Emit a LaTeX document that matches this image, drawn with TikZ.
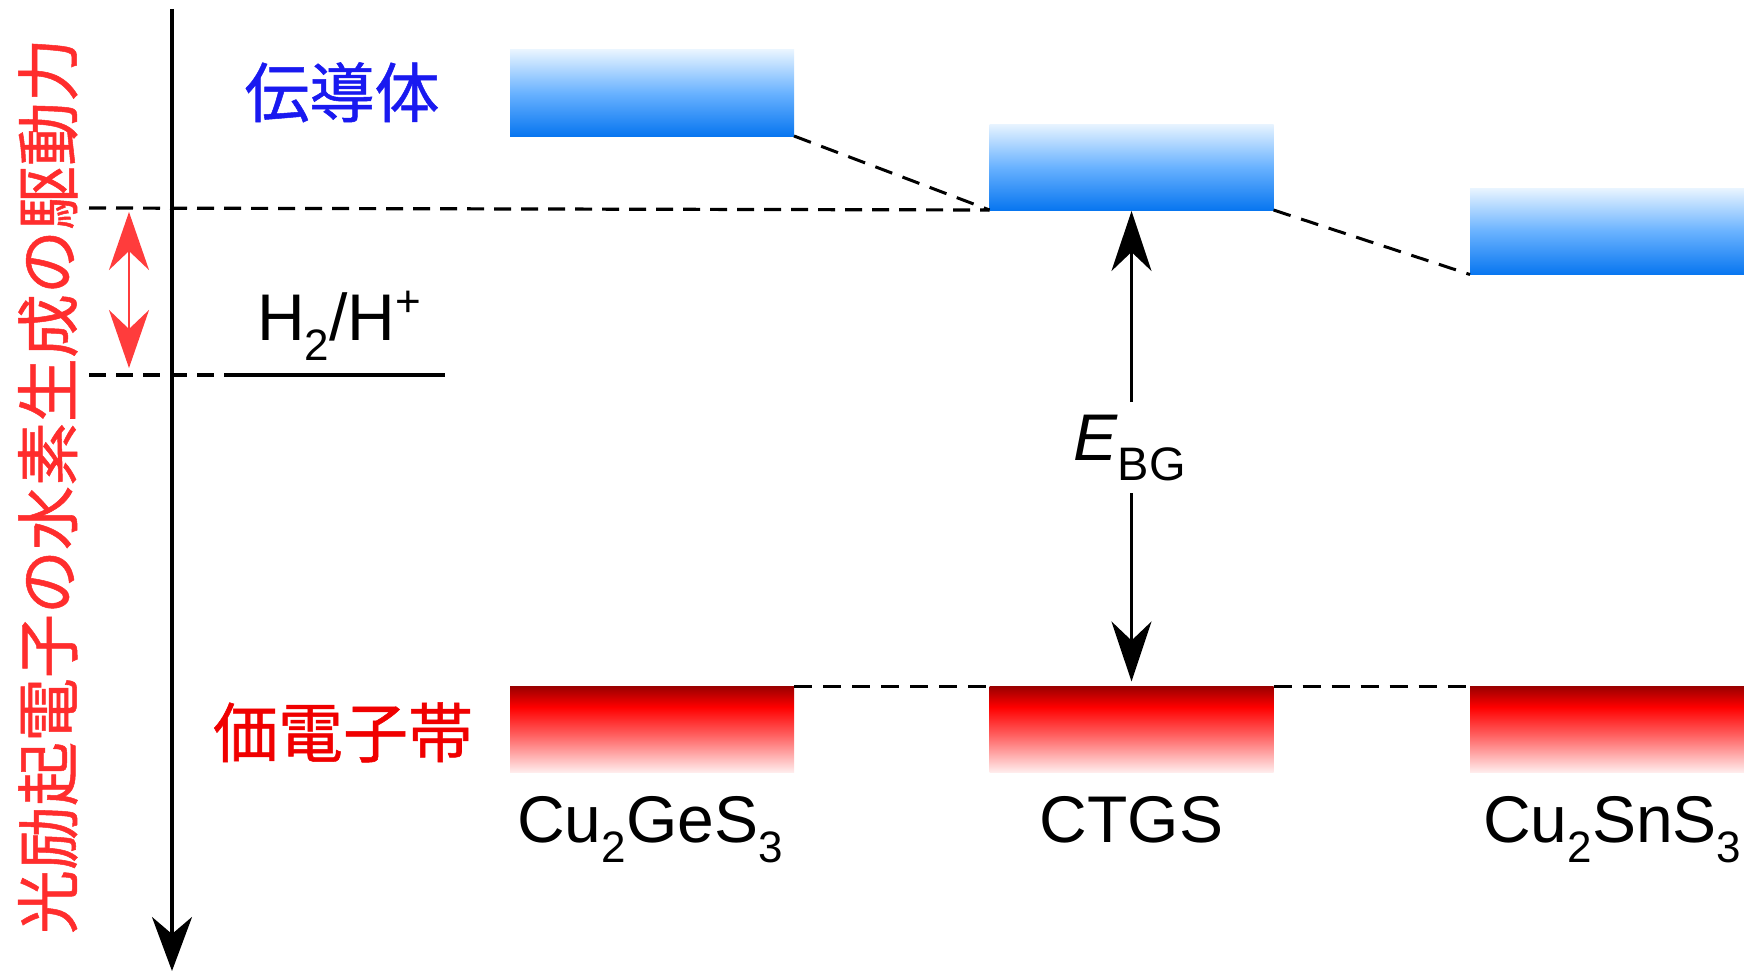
\documentclass[tikz,border=0pt]{standalone}
\usepackage{fontspec}
\setmainfont{Liberation Sans}
\newfontfamily\jpfont[FakeBold=0.8]{Noto Sans CJK JP}
\usetikzlibrary{arrows.meta}

% band colours
\definecolor{cbTop}{RGB}{232,244,255}
\definecolor{cbMid}{RGB}{105,178,255}
\definecolor{cbBot}{RGB}{8,118,240}
\definecolor{vbTop}{RGB}{155,0,0}
\definecolor{vbRed}{RGB}{255,0,0}
\definecolor{vbMid}{RGB}{255,95,95}
\definecolor{vbBot}{RGB}{255,238,238}
% text colours
\definecolor{jpblue}{RGB}{25,25,240}
\definecolor{jpred}{RGB}{255,45,45}
\definecolor{vbred}{RGB}{240,0,0}
\definecolor{arrowred}{RGB}{255,60,60}

\pgfdeclareverticalshading{cbshade}{100bp}{color(0bp)=(cbBot); color(25bp)=(cbBot); color(50bp)=(cbMid); color(75bp)=(cbTop); color(100bp)=(cbTop)}
\pgfdeclareverticalshading{vbshade}{100bp}{color(0bp)=(vbBot); color(25bp)=(vbBot); color(47bp)=(vbMid); color(63bp)=(vbRed); color(75bp)=(vbTop); color(100bp)=(vbTop)}

\newcommand{\lsub}[1]{\raisebox{-20pt}{\fontsize{44}{44}\selectfont #1}}
\newcommand{\lsup}[1]{\raisebox{24pt}{\fontsize{44}{44}\selectfont #1}}

\tikzset{
  band/.style={minimum width=284pt, minimum height=86pt, inner sep=0pt, outer sep=0pt, shade},
  cbband/.style={band, shading=cbshade},
  vbband/.style={band, shading=vbshade},
  guide/.style={line width=3.2pt, dash pattern=on 17pt off 10pt},
  slant/.style={line width=3pt, dash pattern=on 18pt off 11pt},
  level/.style={line width=3.2pt},
  axisline/.style={line width=3.4pt, -{Stealth[length=54pt, width=40pt, inset=17pt]}},
  gaparrow/.style={line width=2.8pt, -{Stealth[length=60pt, width=40pt, inset=19pt]}},
  redarrow/.style={line width=2.6pt, draw=arrowred,
    {Stealth[length=58pt, width=40pt, inset=19pt]}-{Stealth[length=58pt, width=40pt, inset=19pt]}},
  latin/.style={font=\fontsize{66}{72}\selectfont, inner sep=0pt},
  jplabel/.style={font=\jpfont\fontsize{65}{70}\selectfont, inner sep=0pt},
}

\begin{document}
\begin{tikzpicture}[x=1pt, y=-1pt]
  \useasboundingbox (0,0) rectangle (1744,974);

  % energy axis
  \coordinate (axT) at (172,9);
  \coordinate (axB) at (172,971);
  \draw[axisline] (axT) -- (axB);

  % axis label
  \node[jplabel, font=\jpfont\fontsize{64}{64}\selectfont, text=jpred, rotate=90, anchor=base]
    (ylabel) at (72,486) {光励起電子の水素生成の駆動力};

  % conduction bands
  \node[cbband] (cb1) at (652,93) {};
  \node[cbband] (cb2) at (1131.5,167) {};
  \node[cbband] (cb3) at (1612,231.5) {};

  % valence bands
  \node[vbband] (vb1) at (652,729.5) {};
  \node[vbband] (vb2) at (1131.5,729.5) {};
  \node[vbband] (vb3) at (1612,729.5) {};

  % band edge guides
  \draw[slant] (cb1.south east) -- (cb2.south west);
  \draw[slant] (cb2.south east) -- (cb3.south west);
  \draw[slant] (vb1.north east) -- (vb2.north west);
  \draw[slant] (vb2.north east) -- (vb3.north west);

  % CB level of CTGS extended to the axis
  \coordinate (cbL) at (89,208);
  \draw[guide] (cbL) -- (cb2.south west);

  % H2/H+ reduction level
  \coordinate (hL) at (89,375);
  \coordinate (hM) at (224,375);
  \coordinate (hR) at (445,375);
  \draw[guide] (hL) -- (hM);
  \draw[level] (hM) -- (hR);
  \node[latin, anchor=base west] (h2) at (257,340) {H\lsub{2}/H\lsup{+}};

  % driving force
  \coordinate (dfT) at (129,212);
  \coordinate (dfB) at (129,368);
  \draw[redarrow] (dfT) -- (dfB);

  % band gap
  \node[latin, anchor=base west] (ebg) at (1073,460)
    {\textit{E}\raisebox{-20pt}{\fontsize{47}{47}\selectfont BG}};
  \coordinate (gapT) at (1131.5,402);
  \coordinate (gapB) at (1131.5,493);
  \draw[gaparrow, shorten >=1pt] (gapT) -- (cb2.south);
  \draw[gaparrow, shorten >=5pt] (gapB) -- (vb2.north);

  % band names
  \node[jplabel, text=jpblue, anchor=base] (cbname) at (342,117) {伝導体};
  \node[jplabel, text=vbred, anchor=base] (vbname) at (343,757) {価電子帯};

  % materials
  \node[latin, anchor=base west] (m1) at (517,842) {Cu\lsub{2}GeS\lsub{3}};
  \node[latin, anchor=base] (m2) at (1131.5,842) {CTGS};
  \node[latin, anchor=base west] (m3) at (1483,842) {Cu\lsub{2}SnS\lsub{3}};
\end{tikzpicture}
\end{document}
